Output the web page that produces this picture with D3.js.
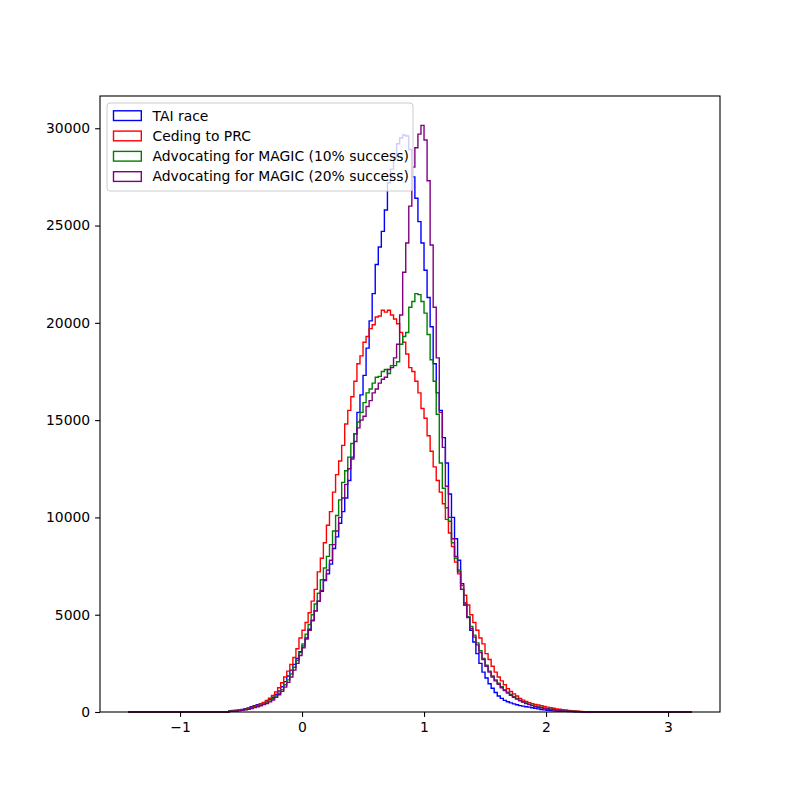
<!DOCTYPE html>
<html>
<head>
<meta charset="utf-8">
<script src="https://cdn.jsdelivr.net/npm/d3@7"></script>
<style>
  body { margin: 0; background: #fff; }
  text { font-family: "DejaVu Sans", sans-serif; }
</style>
</head>
<body>
<svg id="chart"></svg>
<script>
// histogram bins: first bin starts at binStart, every bin binWidth wide
const binStart = -0.6;
const binWidth = 0.025;
// outer edges of the histogram range (counts are ~0 out there)
const rangeMin = -1.425;
const rangeMax = 3.195;

const seriesNames = [
  'TAI race',
  'Ceding to PRC',
  'Advocating for MAGIC (10% success)',
  'Advocating for MAGIC (20% success)'
];
const seriesColors = ['blue', 'red', 'green', 'purple'];

const taiRace = [
  60, 80, 90, 110, 130, 170, 210, 270, 330, 380,
  420, 470, 560, 650, 760, 900, 1080, 1300, 1560, 1850,
  2150, 2450, 2750, 3100, 3400, 3800, 4250, 4700, 5200, 5700,
  6200, 6750, 7100, 7600, 8400, 9000, 9700, 10300, 11000, 11900,
  13100, 14300, 15400, 16300, 17300, 18700, 20100, 21500, 23000, 23900,
  24700, 25800, 27200, 27900, 28500, 29200, 29500, 29650, 29600, 28900,
  27500, 26400, 25200, 24100, 22700, 21300, 19800, 17900, 16400, 15500,
  14100, 12800, 11200, 10000, 8900, 7800, 6600, 5600, 4900, 4200,
  3600, 3000, 2500, 2050, 1750, 1450, 1220, 1000, 820, 700,
  600, 530, 470, 420, 370, 330, 300, 270, 250, 220,
  190, 160, 130, 110, 90, 75, 60, 50, 40, 35,
  30, 25, 20, 15, 10, 10
];

const cedingPRC = [
  40, 55, 70, 90, 110, 140, 180, 230, 280, 340,
  410, 490, 590, 710, 850, 1030, 1250, 1500, 1800, 2100,
  2450, 2800, 3250, 3800, 4200, 4600, 5100, 5700, 6300, 7200,
  7900, 8700, 9600, 10300, 11300, 12200, 12900, 13700, 14800, 15500,
  16200, 17000, 17900, 18300, 19000, 19300, 19700, 19900, 20300, 20350,
  20650, 20550, 20650, 20400, 20200, 19950, 19500, 19000, 18400, 17700,
  17500, 17000, 16400, 15600, 15100, 14200, 13400, 12600, 11900, 11300,
  10700, 9900, 9200, 8500, 7700, 7100, 6500, 6000, 5500, 5000,
  4600, 4200, 3800, 3500, 3000, 2700, 2350, 2050, 1800, 1600,
  1400, 1200, 1050, 930, 820, 700, 610, 540, 480, 430,
  390, 360, 320, 280, 250, 220, 190, 160, 140, 120,
  100, 80, 65, 50, 40, 30
];

const magic10 = [
  40, 50, 65, 80, 100, 130, 160, 200, 250, 300,
  350, 410, 470, 560, 680, 820, 960, 1150, 1400, 1650,
  1950, 2300, 2650, 3050, 3500, 4000, 4500, 5000, 5550, 6100,
  6800, 7400, 8000, 8600, 9300, 10100, 10900, 11800, 12400, 13100,
  13800, 14300, 14900, 15400, 15900, 16400, 16600, 16900, 17200, 17250,
  17500, 17600, 17400, 17800, 17800, 18000, 18900, 19300, 19500, 20800,
  21100, 21500, 21450, 21100, 20500, 19400, 18100, 17000, 15300, 12800,
  11500, 10500, 9800, 8700, 7900, 7300, 6300, 5500, 4900, 4400,
  3950, 3550, 3150, 2750, 2400, 2100, 1850, 1650, 1480, 1300,
  1150, 1020, 900, 790, 690, 610, 530, 460, 400, 350,
  300, 260, 230, 200, 170, 145, 120, 100, 85, 70,
  55, 45, 35, 30, 25, 20
];

const magic20 = [
  35, 45, 55, 70, 90, 115, 145, 180, 225, 270,
  320, 380, 440, 520, 620, 750, 890, 1060, 1280, 1520,
  1800, 2150, 2500, 2900, 3300, 3750, 4200, 4700, 5200, 5700,
  6250, 6800, 7300, 7800, 8600, 9300, 10000, 11000, 11700, 12500,
  13000, 13900, 14600, 15000, 15200, 15700, 16000, 16400, 16600, 16900,
  17100, 17200, 17600, 17700, 18200, 18900, 20400, 22600, 24100, 26000,
  28000, 29000, 29700, 30150, 29400, 27300, 24000, 20800, 18200, 15400,
  13600, 11600, 10000, 8900, 8000, 7200, 6300, 5500, 4850, 4300,
  3850, 3450, 3050, 2700, 2350, 2050, 1800, 1600, 1420, 1250,
  1100, 980, 860, 760, 660, 580, 510, 440, 380, 330,
  285, 245, 210, 180, 155, 130, 110, 90, 75, 60,
  50, 40, 30, 25, 20, 15
];

const seriesValues = [taiRace, cedingPRC, magic10, magic20];

const xTicks = [-1, 0, 1, 2, 3];
const yTicks = [0, 5000, 10000, 15000, 20000, 25000, 30000];

const width = 800;
const height = 800;
const margin = { left: 100, right: 80, top: 96, bottom: 88 };
const fontSize = 13.9;

const svg = d3.select('#chart')
  .attr('width', width)
  .attr('height', height);

// matplotlib-style 5% margins round the data range
const xPad = (rangeMax - rangeMin) * 0.05;
const x = d3.scaleLinear()
  .domain([rangeMin - xPad, rangeMax + xPad])
  .range([margin.left, width - margin.right]);

const yMax = d3.max(seriesValues, s => d3.max(s));
const y = d3.scaleLinear()
  .domain([0, yMax * 1.05])
  .range([height - margin.bottom, margin.top]);

const stepLine = d3.line()
  .x(d => x(d[0]))
  .y(d => y(d[1]))
  .curve(d3.curveStepAfter);

const toPoints = values => {
  const pts = [[rangeMin, 0]];
  values.forEach((v, i) => pts.push([binStart + i * binWidth, v]));
  pts.push([binStart + values.length * binWidth, 0]);
  pts.push([rangeMax, 0]);
  return pts;
};

svg.append('g')
  .selectAll('path')
  .data(seriesValues)
  .enter()
  .append('path')
  .attr('d', d => stepLine(toPoints(d)))
  .attr('fill', 'none')
  .attr('stroke', (d, i) => seriesColors[i])
  .attr('stroke-width', 1.4)
  .attr('stroke-linejoin', 'miter');

// axes
const xAxis = svg.append('g')
  .attr('transform', 'translate(0,' + (height - margin.bottom) + ')')
  .call(d3.axisBottom(x).tickValues(xTicks).tickFormat(d3.format('d'))
    .tickSize(4.9).tickPadding(4.9));

const yAxis = svg.append('g')
  .attr('transform', 'translate(' + margin.left + ',0)')
  .call(d3.axisLeft(y).tickValues(yTicks).tickFormat(d3.format('d'))
    .tickSize(4.9).tickPadding(4.9));

[xAxis, yAxis].forEach(g => {
  g.select('.domain').remove();
  g.selectAll('line').attr('stroke', '#000').attr('stroke-width', 1.1);
  g.selectAll('text')
    .attr('fill', '#000')
    .style('font-family', '"DejaVu Sans", sans-serif')
    .style('font-size', fontSize + 'px');
});

// frame
svg.append('rect')
  .attr('x', margin.left)
  .attr('y', margin.top)
  .attr('width', width - margin.left - margin.right)
  .attr('height', height - margin.top - margin.bottom)
  .attr('fill', 'none')
  .attr('stroke', '#000')
  .attr('stroke-width', 1.1);

// legend
const legend = svg.append('g')
  .attr('transform', 'translate(107,103)');

legend.append('rect')
  .attr('width', 306)
  .attr('height', 88)
  .attr('rx', 3)
  .attr('fill', '#fff')
  .attr('fill-opacity', 0.8)
  .attr('stroke', '#ccc')
  .attr('stroke-width', 1);

const rows = legend.selectAll('.row')
  .data(seriesNames)
  .enter()
  .append('g')
  .classed('row', true)
  .attr('transform', (d, i) => 'translate(0,' + (12.7 + i * 20.3) + ')');

rows.append('rect')
  .attr('x', 6.5)
  .attr('y', -4.9)
  .attr('width', 27.8)
  .attr('height', 9.7)
  .attr('fill', 'none')
  .attr('stroke', (d, i) => seriesColors[i])
  .attr('stroke-width', 1.4);

rows.append('text')
  .attr('x', 45.5)
  .attr('dy', '0.35em')
  .style('font-size', fontSize + 'px')
  .text(d => d);
</script>
</body>
</html>
